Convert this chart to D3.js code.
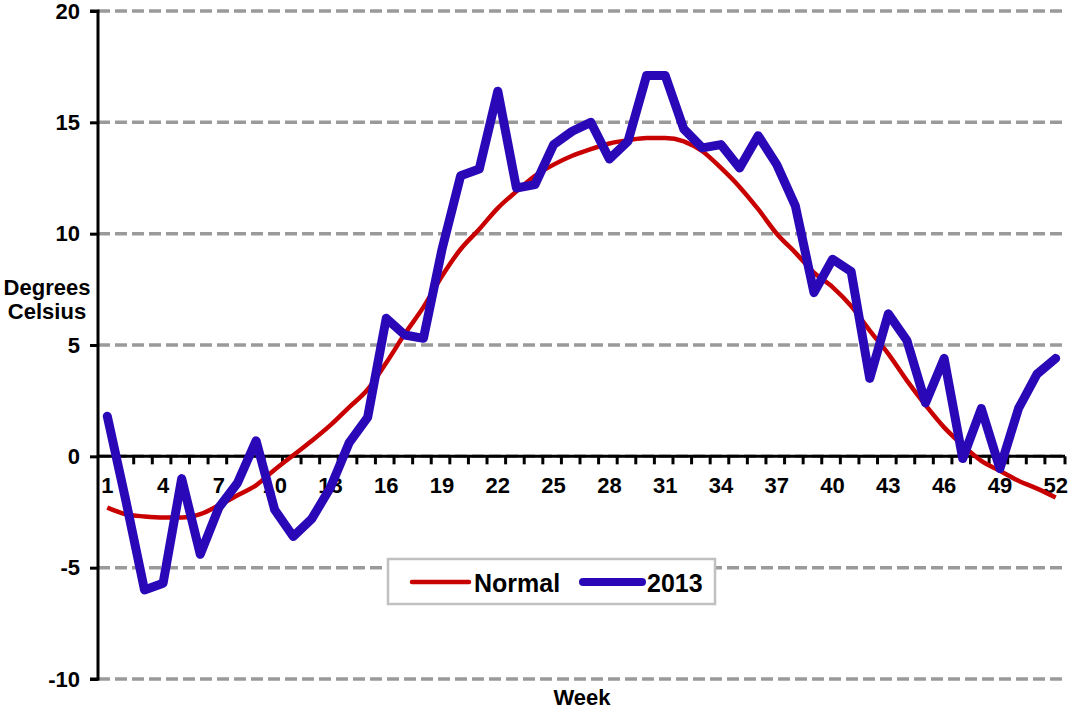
<!DOCTYPE html>
<html>
<head>
<meta charset="utf-8">
<script src="https://cdn.jsdelivr.net/npm/d3@7"></script>
<style>
  body { margin: 0; background: #fff; }
  text { font-family: "Liberation Sans", Arial, sans-serif; font-weight: bold; }
</style>
</head>
<body>
<div id="chart"></div>
<script>
const weeks = d3.range(1, 53)

const normal = [-2.3, -2.6, -2.7, -2.75, -2.75, -2.6, -2.2, -1.75, -1.3, -0.6,
    0.05, 0.7, 1.4, 2.2, 3.0, 4.2, 5.5, 6.7, 8.1, 9.3,
    10.2, 11.15, 11.9, 12.6, 13.1, 13.5, 13.8, 14.05, 14.2, 14.3,
    14.3, 14.15, 13.7, 12.95, 12.1, 11.1, 10.0, 9.15, 8.25, 7.6,
    6.75, 5.65, 4.6, 3.4, 2.3, 1.3, 0.5, -0.2, -0.65, -1.1,
    -1.45, -1.85]

const y2013 = [1.8, -2.0, -6.0, -5.7, -1.0, -4.4, -2.3, -1.2, 0.7, -2.4,
    -3.6, -2.8, -1.4, 0.6, 1.75, 6.2, 5.45, 5.3, 9.3, 12.6,
    12.9, 16.4, 12.05, 12.2, 14.0, 14.6, 15.0, 13.35, 14.15, 17.1,
    17.1, 14.7, 13.85, 14.0, 12.95, 14.4, 13.1, 11.25, 7.35, 8.85,
    8.3, 3.5, 6.4, 5.2, 2.4, 4.4, -0.1, 2.15, -0.55, 2.15,
    3.7, 4.4]

const yTicks = [-10, -5, 0, 5, 10, 15, 20]
const weekLabels = weeks.filter(w => (w - 1) % 3 === 0)

const width = 1069, height = 713
const margin = { top: 11, right: 4, bottom: 34, left: 98 }

const svg = d3.select("#chart")
    .append("svg")
    .attr("width", width)
    .attr("height", height)

const x = d3.scaleBand()
    .domain(weeks)
    .range([margin.left, width - margin.right])

const y = d3.scaleLinear()
    .domain([-10, 20])
    .range([height - margin.bottom, margin.top])

const cx = d => x(d) + x.bandwidth() / 2

// gridlines
svg.append("g")
    .selectAll("line")
    .data(yTicks)
    .enter()
    .append("line")
    .attr("x1", margin.left)
    .attr("x2", width - margin.right)
    .attr("y1", d => y(d))
    .attr("y2", d => y(d))
    .attr("stroke", "#9a9a9a")
    .attr("stroke-width", 3.5)
    .attr("stroke-dasharray", "12,5")

// y axis
const yAxis = svg.append("g")
    .attr("transform", `translate(${margin.left},0)`)
    .call(d3.axisLeft(y).tickValues(yTicks).tickSize(8).tickPadding(10)
        .tickFormat(d => String(d)))
yAxis.select(".domain").attr("stroke", "#000").attr("stroke-width", 3)
    .attr("d", `M-8,${y(20)}H0V${y(-10)}H-8`)
yAxis.selectAll(".tick line").attr("stroke", "#000").attr("stroke-width", 3)
yAxis.selectAll(".tick text")
    .attr("font-size", 22)
    .attr("fill", "#000")
    .attr("font-family", "Liberation Sans, Arial, sans-serif")
    .attr("font-weight", "bold")

// x axis at y = 0
const xAxisG = svg.append("g")
    .attr("transform", `translate(0,${y(0)})`)
xAxisG.append("line")
    .attr("x1", margin.left)
    .attr("x2", width - margin.right)
    .attr("stroke", "#000")
    .attr("stroke-width", 3)
xAxisG.selectAll(".tk")
    .data(weeks.slice(1))
    .enter()
    .append("line")
    .attr("x1", d => x(d) - 1.5)
    .attr("x2", d => x(d) - 1.5)
    .attr("y1", 0)
    .attr("y2", 8)
    .attr("stroke", "#000")
    .attr("stroke-width", 3)
xAxisG.append("line")
    .attr("x1", width - margin.right)
    .attr("x2", width - margin.right)
    .attr("y1", 0)
    .attr("y2", 8)
    .attr("stroke", "#000")
    .attr("stroke-width", 3)
xAxisG.selectAll(".lbl")
    .data(weekLabels)
    .enter()
    .append("text")
    .attr("x", d => cx(d))
    .attr("y", 37)
    .attr("text-anchor", "middle")
    .attr("font-size", 22)
    .text(d => d)

// lines
const line = d3.line()
    .x((d, i) => cx(weeks[i]))
    .y(d => y(d))

svg.append("path")
    .datum(normal)
    .attr("d", line.curve(d3.curveMonotoneX))
    .attr("fill", "none")
    .attr("stroke", "#c80000")
    .attr("stroke-width", 4.5)
    .attr("stroke-linejoin", "round")

svg.append("path")
    .datum(y2013)
    .attr("d", line.curve(d3.curveLinear))
    .attr("fill", "none")
    .attr("stroke", "#2a08b8")
    .attr("stroke-width", 9)
    .attr("stroke-linejoin", "round")
    .attr("stroke-linecap", "round")

// axis titles
svg.append("text")
    .attr("x", 47)
    .attr("y", 295)
    .attr("text-anchor", "middle")
    .attr("font-size", 22)
    .text("Degrees")
svg.append("text")
    .attr("x", 47)
    .attr("y", 319)
    .attr("text-anchor", "middle")
    .attr("font-size", 22)
    .text("Celsius")
svg.append("text")
    .attr("x", 582)
    .attr("y", 705)
    .attr("text-anchor", "middle")
    .attr("font-size", 22)
    .text("Week")

// legend
const legend = svg.append("g")
legend.append("rect")
    .attr("x", 388)
    .attr("y", 559)
    .attr("width", 327)
    .attr("height", 45)
    .attr("fill", "#fff")
    .attr("stroke", "#c0c0c0")
    .attr("stroke-width", 2.5)

const legendItems = [
    { name: "Normal", color: "#c80000", w: 4.5, x0: 412, x1: 469 },
    { name: "2013", color: "#2a08b8", w: 8, x0: 583, x1: 642 }
]
legend.selectAll(".ll")
    .data(legendItems)
    .enter()
    .append("line")
    .attr("x1", d => d.x0)
    .attr("x2", d => d.x1)
    .attr("y1", 582)
    .attr("y2", 582)
    .attr("stroke", d => d.color)
    .attr("stroke-width", d => d.w)
    .attr("stroke-linecap", "round")
legend.selectAll(".lt")
    .data(legendItems)
    .enter()
    .append("text")
    .attr("x", d => d.x1 + 5)
    .attr("y", 592)
    .attr("font-size", 25)
    .text(d => d.name)
</script>
</body>
</html>
